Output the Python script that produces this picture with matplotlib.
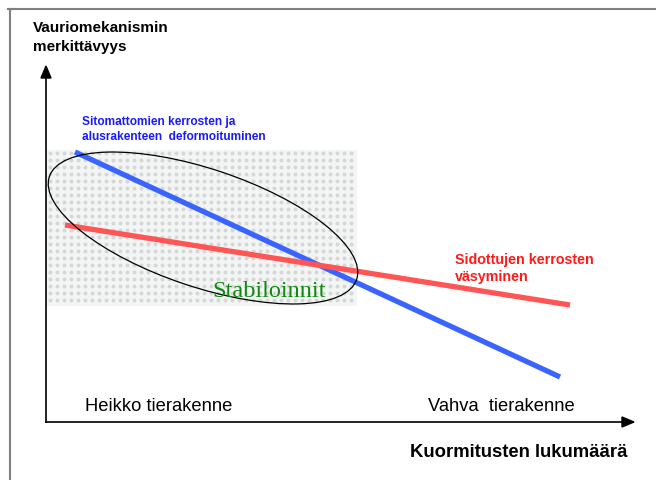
import numpy as np
import matplotlib.pyplot as plt
from matplotlib.patches import Ellipse, Rectangle

# line end points (picture coordinates, y grows downward)
blue_x = [75, 560]
blue_y = [153, 378]
red_x = [65, 570]
red_y = [226, 306]

y_title = "Vauriomekanismin\nmerkittävyys"
x_title = "Kuormitusten lukumäärä"
blue_label = "Sitomattomien kerrosten ja\nalusrakenteen  deformoituminen"
red_label = "Sidottujen kerrosten\nväsyminen"
weak_label = "Heikko tierakenne"
strong_label = "Vahva  tierakenne"
zone_label = "Stabiloinnit"

fig = plt.figure(figsize=(6.56, 4.81), dpi=100)
ax = fig.add_axes([0, 0, 1, 1])
ax.set_xlim(0, 656)
ax.set_ylim(481, 0)
ax.axis("off")

# page frame
ax.plot([8, 656], [10, 10], color="#808080", lw=1.5)
ax.plot([10, 10], [10, 481], color="#808080", lw=1.5)

# dotted stabilisation zone
ax.add_patch(Rectangle((47, 151), 310, 156, facecolor="#f3f5f5", edgecolor="none", zorder=1))
gx, gy = np.meshgrid(np.arange(50, 357, 7), np.arange(154, 307, 7))
ax.scatter(gx.ravel(), gy.ravel(), s=8, color="#d5d7d7", marker="o", linewidths=0, zorder=1)

# axes with arrows
ax.plot([46, 46], [423, 76], color="black", lw=1.2, zorder=3)
ax.plot([46, 624], [423, 423], color="black", lw=1.2, zorder=3)
ax.fill([41, 51, 46], [79, 79, 67], color="black", zorder=3)
ax.fill([622, 622, 634], [418, 428, 423], color="black", zorder=3)

# lines
ax.plot(blue_x, blue_y, color="#3a64ff", lw=3.8, solid_capstyle="butt", zorder=4)
ax.plot(red_x, red_y, color="#ff5555", lw=3.8, solid_capstyle="butt", zorder=4)

ax.add_patch(Ellipse((203, 229), 324, 118, angle=18.5, fill=False, edgecolor="black", lw=0.9, zorder=5))

ax.text(33, 21, y_title, fontsize=11, fontweight="bold", family="Liberation Sans",
        va="top", ha="left", linespacing=1.45)
ax.text(82, 116, blue_label, fontsize=8.6, fontweight="bold", family="Liberation Sans",
        color="#1a1aff", va="top", ha="left", linespacing=1.3)
ax.text(455, 253, red_label, fontsize=10.3, fontweight="bold", family="Liberation Sans",
        color="#ff1a1a", va="top", ha="left", linespacing=1.25)
ax.text(212, 297, zone_label, fontsize=17.5, family="Liberation Serif",
        color="#108a10", va="baseline", ha="left", zorder=6)
ax.text(85, 411, weak_label, fontsize=13.2, family="Liberation Sans", va="baseline", ha="left")
ax.text(428, 411, strong_label, fontsize=13.2, family="Liberation Sans", va="baseline", ha="left")
ax.text(410, 457, x_title, fontsize=13.3, fontweight="bold", family="Liberation Sans",
        va="baseline", ha="left")

fig.savefig("out.png", dpi=100)
